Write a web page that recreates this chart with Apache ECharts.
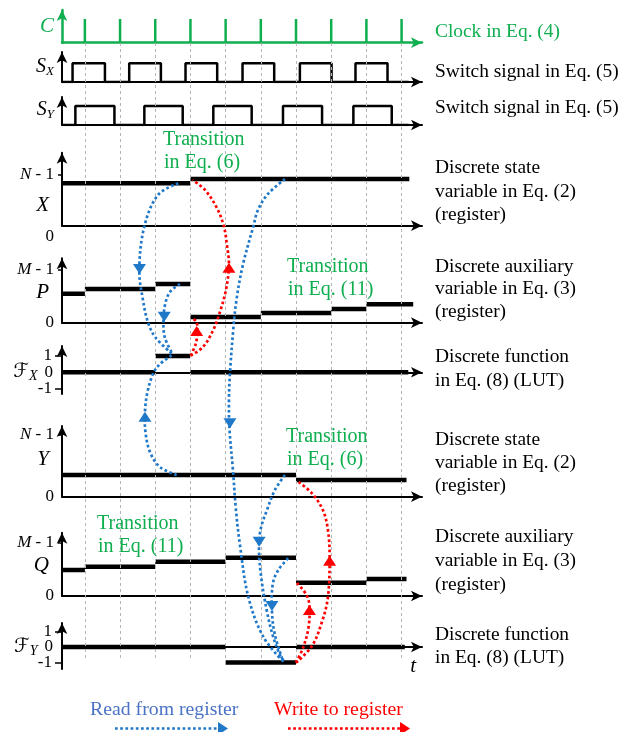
<!DOCTYPE html>
<html><head><meta charset="utf-8">
<script src="https://cdn.jsdelivr.net/npm/echarts@6/dist/echarts.min.js"></script>
<style>html,body{margin:0;padding:0;background:#fff}#c{width:623px;height:732px}</style>
</head><body><div id="c"></div>
<script>
// ---------------- data ----------------
const clockTicks = [1,2,3,4,5,6,7,8,9,10];
const sxRise = [0.65,2.26,3.86,5.48,7.11,8.69];
const sxFall = [1.57,3.16,4.76,6.38,8.01,9.60];
const syRise = [0.73,2.69,4.65,6.63,8.63];
const syFall = [1.84,3.78,5.74,7.74,9.72];
const xTimes = [0.35,4,10.22];            const xValues = [0.825,0.909];
const pTimes = [0.35,1,3,4,6,8,9,10.33];  const pValues = [0.543,0.631,0.724,0.107,0.182,0.257,0.345];
const fxTimes = [0.35,3,4,10.19];         const fxValues = [0,1,0];
const yTimes = [0.35,7,10.14];            const yValues = [0.352,0.27];
const qTimes = [0.35,1,3,5,7,9,10.14];    const qValues = [0.484,0.546,0.639,0.713,0.248,0.317];
const fyTimes = [0.35,5,7,10.09];         const fyValues = [0,-1,0];

const rightTexts = [
  ['Clock in Eq. (4)', 32, true],
  ['Switch signal in Eq. (5)', 72], ['Switch signal in Eq. (5)', 108],
  ['Discrete state', 168], ['variable in Eq. (2)', 192], ['(register)', 215],
  ['Discrete auxiliary', 267], ['variable in Eq. (3)', 289], ['(register)', 312],
  ['Discrete function', 357], ['in Eq. (8) (LUT)', 381],
  ['Discrete state', 440], ['variable in Eq. (2)', 463], ['(register)', 486],
  ['Discrete auxiliary', 537], ['variable in Eq. (3)', 561], ['(register)', 585],
  ['Discrete function', 635], ['in Eq. (8) (LUT)', 658]
];
const transitionNotes = [
  ['Transition', 'in Eq. (6)', 163, 140],
  ['Transition', 'in Eq. (11)', 287, 267],
  ['Transition', 'in Eq. (6)', 286, 437],
  ['Transition', 'in Eq. (11)', 97, 524]
];

// ---------------- layout ----------------
const T0 = 0.35, T1 = 10.58, LEFT = 62, WIDTH = 360;
const GREEN = '#0fae4f', BLUE = '#1f78c8', RED = '#ff0000', LBLUE = '#4a72c4';
const SERIF = '"Liberation Serif","Times New Roman",serif';
const panels = [
  {top:10,    h:32.7, min:0,     max:1.38},
  {top:52,    h:30,   min:0,     max:1.6},
  {top:97,    h:28,   min:0,     max:1.47},
  {top:152.7, h:73,   min:0,     max:1.42},
  {top:258.3, h:64.4, min:0,     max:1.206},
  {top:346,   h:48,   min:-1.33, max:1.61},
  {top:426,   h:70.7, min:0,     max:1.146},
  {top:532.7, h:63.3, min:0,     max:1.18},
  {top:623,   h:46,   min:-1.42, max:1.55}
];
const yLabels = [
  {vals:[0.7], txt:['{c|C}'], ticks:[], tl:4},
  {vals:[0.8], txt:['{v|S}{s|X}'], ticks:[], tl:4},
  {vals:[0.79], txt:['{v|S}{s|Y}'], ticks:[], tl:4},
  {vals:[0,0.4,1], txt:['{low|0}','{vx|X}','{i|N}{n| - 1}'], ticks:[1], tl:4},
  {vals:[0,0.575,1], txt:['{n|0}','{vx|P}','{i|M}{n| - 1}'], ticks:[1], tl:4},
  {vals:[-1,1], txt:['{m|-1}','{m|1}'], ticks:[-1,1], tl:7},
  {vals:[0,0.61,1], txt:['{n|0}','{vx|Y}','{i|N}{n| - 1}'], ticks:[1], tl:4},
  {vals:[0,0.56,1], txt:['{n|0}','{vx|Q}','{i|M}{n| - 1}'], ticks:[1], tl:4},
  {vals:[-1,1], txt:['{m|-1}','{m|1}'], ticks:[-1,1], tl:7}
];
// second label axes for the function panels (label at 0)
const fLabels = [
  {grid:5, txt:'{f|ℱ}{fs|X}{z|0}'},
  {grid:8, txt:'{f|ℱ}{fs|Y}{z|0}'}
];
const rich = {
  n:{fontFamily:SERIF,fontSize:17,color:'#000'},
  m:{fontFamily:SERIF,fontSize:17,color:'#000',padding:[0,1,0,0]},
  i:{fontFamily:SERIF,fontSize:17,fontStyle:'italic',color:'#000'},
  low:{fontFamily:SERIF,fontSize:17,color:'#000',padding:[22,0,0,0]},
  c:{fontFamily:SERIF,fontSize:21,fontStyle:'italic',color:GREEN},
  v:{fontFamily:SERIF,fontSize:20,fontStyle:'italic',color:'#000'},
  vx:{fontFamily:SERIF,fontSize:21,fontStyle:'italic',color:'#000',padding:[0,5,0,0]},
  s:{fontFamily:SERIF,fontSize:13,fontStyle:'italic',color:'#000',padding:[9,0,0,0]},
  f:{fontFamily:'"DejaVu Serif","DejaVu Sans",serif',fontSize:20,color:'#000'},
  fs:{fontFamily:SERIF,fontSize:14,fontStyle:'italic',color:'#000',padding:[8,0,0,0]},
  z:{fontFamily:SERIF,fontSize:17,color:'#000',padding:[0,0,0,7]}
};

function segData(times, values){
  const d = [];
  for (let i=0;i<values.length;i++){
    d.push([times[i],values[i]],[times[i+1],values[i]]);
    if (i<values.length-1) d.push([times[i+1],'-']);
  }
  return d;
}
function pulseData(rise, fall){
  const d = [[T0,0]];
  for (let i=0;i<rise.length;i++) d.push([rise[i],0],[rise[i],1],[fall[i],1],[fall[i],0]);
  d.push([10.2,0]);
  return d;
}
const clockData = [];
clockTicks.forEach(k=>clockData.push([k,0],[k,1],[k,'-']));

const grids = panels.map(p=>({left:LEFT,width:WIDTH,top:p.top,height:p.h}));
grids.push({left:LEFT,width:WIDTH,top:43,height:615});

const xAxes = panels.map((p,i)=>({
  gridIndex:i,type:'value',min:T0,max:T1,
  axisLine:{show:true,onZero:true,symbol:['none','arrow'],symbolSize:[8,11],
    lineStyle:{color:i===0?GREEN:'#000',width:i===0?2.5:2}},
  axisTick:{show:false},axisLabel:{show:false},splitLine:{show:false},
  name: i===8 ? 't' : '', nameLocation:'end', nameGap:-6,
  nameTextStyle:{fontFamily:SERIF,fontSize:21,fontStyle:'italic',color:'#000',align:'right',verticalAlign:'top',padding:[9,0,0,0]}
}));
xAxes.push({gridIndex:9,type:'value',min:T0,max:T1,show:false});

const yAxes = panels.map((p,i)=>{
  const L = yLabels[i];
  return {
    gridIndex:i,type:'value',min:p.min,max:p.max,position:'left',offset:0,
    axisLine:{show:true,onZero:false,symbol:['none','arrow'],symbolSize:[8,11],
      lineStyle:{color:i===0?GREEN:'#000',width:i===0?2.5:2}},
    axisTick:{show:L.ticks.length>0,customValues:L.ticks,length:L.tl,lineStyle:{width:1.5,color:'#000'}},
    axisLabel:{show:true,customValues:L.vals,margin:L.tl===7?9:8,hideOverlap:false,rich:rich,
      formatter:(val)=>{let bi=0,bd=1e9;L.vals.forEach((v,j)=>{const d=Math.abs(v-val);if(d<bd){bd=d;bi=j;}});return L.txt[bi];}},
    splitLine:{show:false}
  };
});
yAxes.push({gridIndex:9,type:'value',min:0,max:1,show:false});
fLabels.forEach(F=>{
  const p = panels[F.grid];
  yAxes.push({gridIndex:F.grid,type:'value',min:p.min,max:p.max,position:'left',offset:0,
    axisLine:{show:false},axisTick:{show:false},splitLine:{show:false},
    axisLabel:{show:true,customValues:[0],margin:9,hideOverlap:false,rich:rich,formatter:()=>F.txt}});
});

const lineS = (idx,data,color,w)=>({type:'line',xAxisIndex:idx,yAxisIndex:idx,data:data,showSymbol:false,symbol:'none',
  connectNulls:false,silent:true,lineStyle:{color:color,width:w,cap:'butt'},z:3,animation:false});

const series = [
  {type:'line',xAxisIndex:9,yAxisIndex:9,data:[],silent:true,z:0,animation:false,
   markLine:{symbol:'none',silent:true,animation:false,label:{show:false},
     lineStyle:{color:'#b5b5b5',type:[3,3],width:1},
     data:clockTicks.map(k=>({xAxis:k}))}},
  lineS(0,clockData,GREEN,2.5),
  lineS(1,pulseData(sxRise,sxFall),'#000',2.5),
  lineS(2,pulseData(syRise,syFall),'#000',2.5),
  lineS(3,segData(xTimes,xValues),'#000',4.5),
  lineS(4,segData(pTimes,pValues),'#000',4.5),
  lineS(5,segData(fxTimes,fxValues),'#000',4.5),
  lineS(6,segData(yTimes,yValues),'#000',4.5),
  lineS(7,segData(qTimes,qValues),'#000',4.5),
  lineS(8,segData(fyTimes,fyValues),'#000',4.5)
];

const chart = echarts.init(document.getElementById('c'));
chart.setOption({animation:false,grid:grids,xAxis:xAxes,yAxis:yAxes,series:series});

// ------------- arrows (anchored in panel coordinates) -------------
// each point: [panelIndex, t, value]
const arrows = [
  {c:BLUE, pts:[[3,3.654,0.825],[3,3.077,0.597],[3,2.688,-0.019],[4,2.546,0.987],[4,2.651,0.425],[4,2.802,-0.011],[5,3.02,2.10],[5,3.466,1.151]], head:[4,2.552,0.912,'down']},
  {c:BLUE, pts:[[4,3.702,0.724],[4,3.418,0.575],[4,3.276,0.331],[4,3.233,0.013],[5,3.276,2.10],[5,3.489,1.151]], head:[4,3.256,0.019,'down']},
  {c:BLUE, pts:[[6,3.609,0.352],[6,3.134,0.481],[6,2.85,0.724],[6,2.722,1.049],[6,2.708,1.378],[5,2.779,-1.206],[5,2.944,-0.061],[5,3.134,0.508],[5,3.466,1.029]], head:[6,2.708,1.378,'up']},
  {c:RED,  pts:[[5,4.006,1.017],[5,4.157,1.794],[5,4.2,2.59],[4,4.171,0.013],[4,4.063,0.082]], head:[5,4.177,2.835,'up']},
  {c:RED,  pts:[[5,4.006,1.017],[5,4.356,1.549],[5,4.648,2.59],[4,4.838,0.2],[4,5.009,0.612],[4,5.094,1.08],[3,5.037,-0.375],[3,4.952,-0.019],[3,4.753,0.344],[3,4.412,0.695],[3,4.063,0.889]], head:[4,5.094,1.124,'up']},
  {c:BLUE, pts:[[3,6.685,0.909],[3,6.202,0.617],[3,5.918,0.305],[3,5.785,-0.019],[4,5.492,1.088],[4,5.307,0.425],[5,5.216,2.59],[5,5.123,-0.061],[6,5.094,1.567],[6,5.108,1.108],[6,5.208,0.433],[7,5.293,1.601],[7,5.407,0.95],[8,5.643,3.25],[8,6.069,0.665],[8,6.637,-0.949]], head:[6,5.123,1.108,'down']},
  {c:BLUE, pts:[[6,6.685,0.352],[6,6.401,0.109],[7,6.174,1.601],[7,6.003,1.266],[7,5.947,0.918],[7,6.003,0.391],[8,6.165,2.389],[8,6.344,0.71],[8,6.543,-0.516],[8,6.657,-0.904]], head:[7,5.952,0.918,'down']},
  {c:BLUE, pts:[[7,6.779,0.702],[7,6.515,0.503],[7,6.344,0.242],[8,6.316,2.324],[8,6.401,0.775],[8,6.637,-0.949]], head:[8,6.316,2.324,'down']},
  {c:RED,  pts:[[8,6.998,-1.014],[8,7.197,-0.065],[8,7.353,1.227],[8,7.381,2.711],[7,7.282,0.037],[7,7.026,0.242]], head:[8,7.381,2.711,'up']},
  {c:RED,  pts:[[8,6.998,-1.014],[8,7.452,0.065],[8,7.736,1.614],[8,7.907,3.228],[7,7.955,0.75],[7,7.907,1.229],[7,7.765,1.601],[6,7.452,0.055],[6,7.063,0.243]], head:[7,7.955,0.75,'up']}
];

const px = (g,t,v)=>chart.convertToPixel({gridIndex:g},[t,v]);
const graphics = [];
function headShape(x,y,dir,color){
  const w=6.5,h=10;
  const pts = dir==='down' ? [[x-w,y-h],[x+w,y-h],[x,y]] : dir==='up' ? [[x-w,y+h],[x+w,y+h],[x,y]] : [[x-h,y-w],[x-h,y+w],[x,y]];
  return {type:'polygon',shape:{points:pts},style:{fill:color,stroke:null},z:60,silent:true};
}
function dotted(points,color,smooth){
  return {type:'polyline',shape:{points:points,smooth:smooth},style:{stroke:color,lineWidth:2.7,lineDash:[2.7,2.5],fill:null},z:55,silent:true};
}
arrows.forEach(a=>{
  const pts = a.pts.map(p=>px(p[0],p[1],p[2]));
  graphics.push(dotted(pts,a.c,0.35));
  const h = px(a.head[0],a.head[1],a.head[2]);
  graphics.push(headShape(h[0],h[1],a.head[3],a.c));
});

// right-hand descriptions
rightTexts.forEach(r=>{
  graphics.push({type:'text',x:435,y:r[1],silent:true,z:40,
    style:{text:r[0],fontFamily:SERIF,fontSize:19.4,fill:r[2]?GREEN:'#000',align:'left',verticalAlign:'middle'}});
});
// green transition notes
transitionNotes.forEach(n=>{
  graphics.push({type:'text',x:n[2],y:n[3],silent:true,z:40,style:{text:n[0],fontFamily:SERIF,fontSize:20,fill:GREEN,align:'left',verticalAlign:'middle'}});
  graphics.push({type:'text',x:n[2]+1,y:n[3]+23,silent:true,z:40,style:{text:n[1],fontFamily:SERIF,fontSize:20,fill:GREEN,align:'left',verticalAlign:'middle'}});
});
// legend
graphics.push({type:'text',x:90,y:710,silent:true,style:{text:'Read from register',fontFamily:SERIF,fontSize:19.8,fill:LBLUE,align:'left',verticalAlign:'middle'}});
graphics.push({type:'text',x:274,y:710,silent:true,style:{text:'Write to register',fontFamily:SERIF,fontSize:19.8,fill:RED,align:'left',verticalAlign:'middle'}});
graphics.push(dotted([[115,728.5],[220,728.5]],BLUE,0));
graphics.push(headShape(228,728.5,'right',BLUE));
graphics.push(dotted([[288,728.5],[402,728.5]],RED,0));
graphics.push(headShape(410,728.5,'right',RED));

chart.setOption({graphic:{elements:graphics}});
</script>
</body></html>
